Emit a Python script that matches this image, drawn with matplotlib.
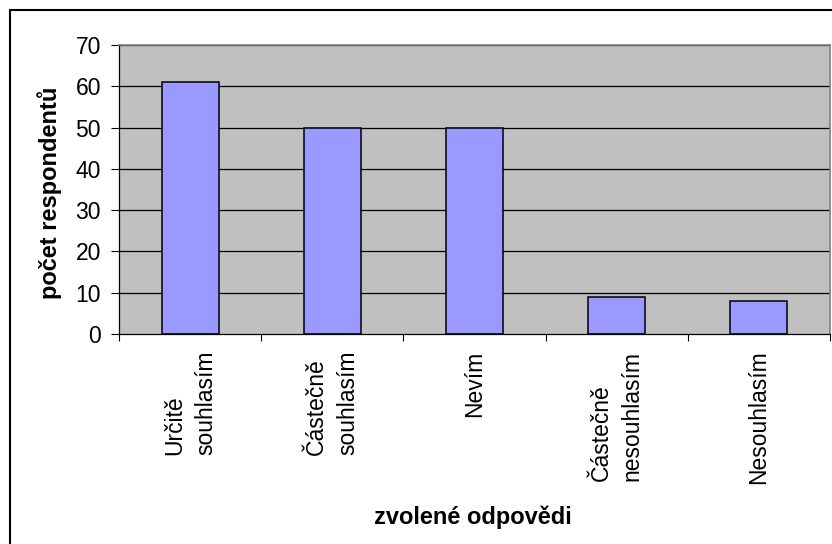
import matplotlib
matplotlib.use("Agg")
import matplotlib.pyplot as plt
from matplotlib.patches import Rectangle

plt.rcParams["font.family"] = ["Liberation Sans", "DejaVu Sans"]

categories = [
    "Určitě\nsouhlasím",
    "Částečně\nsouhlasím",
    "Nevím",
    "Částečně\nnesouhlasím",
    "Nesouhlasím",
]
counts = [61, 50, 50, 9, 8]
y_ticks = [0, 10, 20, 30, 40, 50, 60, 70]

W, H = 832, 544
fig = plt.figure(figsize=(W / 100, H / 100), dpi=100)
fig.patch.set_facecolor("white")

# plot area in pixel terms
left, right, top, bottom = 119, 830, 45, 334
ax = fig.add_axes([left / W, 1 - bottom / H, (right - left) / W, (bottom - top) / H])
ax.set_facecolor("#C0C0C0")

x = list(range(len(categories)))
ax.set_axisbelow(True)
for v in y_ticks[1:]:
    ax.axhline(v, color="black", lw=0.9, zorder=1)
ax.bar(x, counts, width=0.4, color="#9999FF", edgecolor="black", linewidth=1.1, zorder=2)

ax.set_xlim(-0.5, len(categories) - 0.5)
ax.set_ylim(0, 70)
ax.set_yticks(y_ticks)
ax.tick_params(axis="y", direction="out", length=6, width=0.8, pad=7,
               labelsize=16.5, colors="black")

# category separators as major ticks, labels on minor ticks at bar centres
ax.set_xticks([i - 0.5 for i in range(len(categories) + 1)])
ax.set_xticklabels([])
ax.set_xticks(x, minor=True)
ax.set_xticklabels(categories, minor=True, rotation=90, ha="center", va="top",
                   multialignment="left", fontsize=16.5, linespacing=1.45)
ax.tick_params(axis="x", which="major", direction="out", length=5, width=0.8)
ax.tick_params(axis="x", which="minor", length=0, pad=12)

for side in ("top", "right"):
    ax.spines[side].set_color("#808080")
    ax.spines[side].set_linewidth(1.2)
for side in ("left", "bottom"):
    ax.spines[side].set_color("black")
    ax.spines[side].set_linewidth(0.9)

fig.text(50 / W, 1 - 193 / H, "počet respondentů", rotation=90,
         ha="center", va="center", fontsize=17, fontweight="bold")
fig.text(473 / W, 1 - 517 / H, "zvolené odpovědi",
         ha="center", va="center", fontsize=17, fontweight="bold")

# outer chart border
fig.patches.append(Rectangle((10 / W, -0.1), 1.2, 534 / H + 0.1, fill=False,
                             edgecolor="black", linewidth=1.5,
                             transform=fig.transFigure, figure=fig))

fig.savefig("out.png", dpi=100)
